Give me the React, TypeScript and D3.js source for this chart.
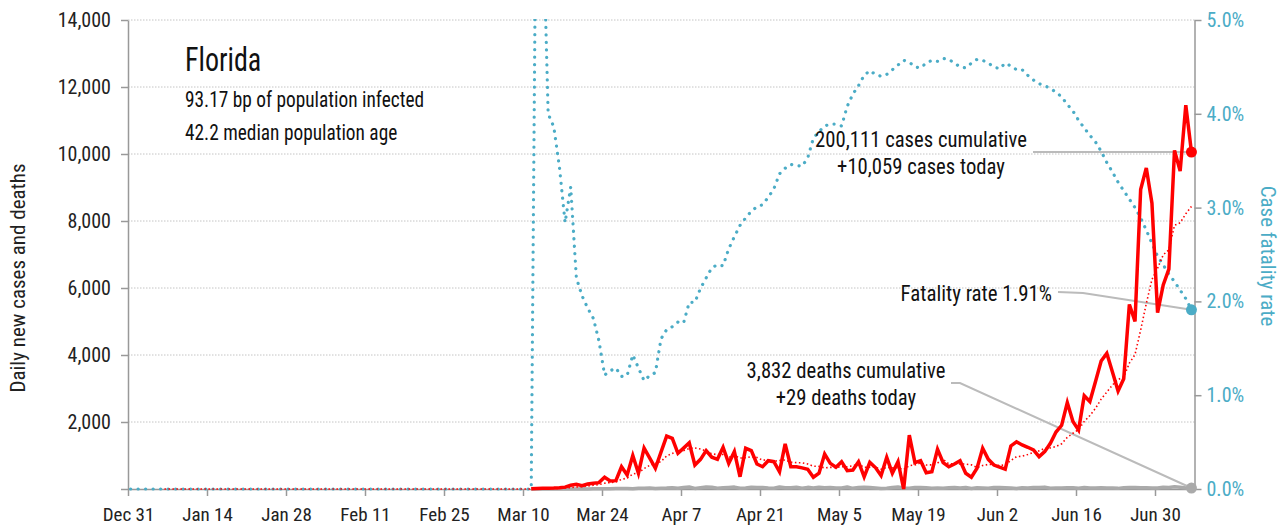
import * as d3 from 'd3';
import { useEffect, useRef } from 'react';

const W = 1280;
const H = 529;
const FONT = "'Liberation Sans Narrow', 'Roboto Condensed', 'DejaVu Sans Condensed', 'Arial Narrow', sans-serif";
const BLUE = '#4bacc6';
const RED = '#ff0000';
const GREY = '#aaaaaa';

// index 0 of every series sits on Dec 31; the chart stamps each day late in the day
const seriesStart = new Date(2019, 11, 31, 11);
const leadDays = 71; // days with nothing reported before the series below begin

const dailyCases = [
  7, 17, 20, 26, 31, 40, 56, 112, 140, 100,
  150, 170, 190, 350, 240, 250, 665, 420, 1000, 470,
  1220, 920, 620, 1100, 1580, 1510, 1065, 1220, 1380, 715,
  885, 1145, 950, 885, 1245, 765, 1115, 365, 1215, 1145,
  745, 665, 845, 815, 515, 1345, 665, 665, 630, 590,
  350, 470, 1045, 765, 650, 815, 545, 565, 815, 365,
  795, 640, 400, 945, 470, 815, 0, 1610, 785, 845,
  485, 515, 1185, 785, 665, 745, 845, 470, 350, 620,
  1215, 885, 715, 650, 590, 1285, 1410, 1315, 1245, 1165,
  965, 1115, 1365, 1700, 1902, 2581, 2016, 1758, 2783, 2610,
  3207, 3822, 4049, 3494, 2926, 3289, 5508, 5004, 8942, 9585,
  8530, 5266, 6093, 6563, 10109, 9488, 11458, 10059,
];

const dailyDeaths = [
  2, 0, 1, 1, 2, 1, 3, 2, 3, 5,
  2, 6, 9, 6, 10, 13, 15, 17, 10, 25,
  26, 31, 17, 23, 28, 40, 22, 46, 59, 18,
  38, 58, 53, 26, 36, 48, 57, 20, 28, 53,
  47, 45, 27, 21, 60, 40, 38, 50, 23, 49,
  27, 54, 37, 43, 30, 33, 60, 20, 47, 55,
  42, 28, 15, 21, 46, 58, 29, 22, 45, 44,
  38, 26, 28, 23, 39, 43, 27, 48, 13, 35,
  29, 25, 46, 47, 41, 32, 14, 40, 28, 44,
  48, 56, 22, 31, 33, 40, 37, 25, 43, 27,
  27, 40, 33, 29, 19, 41, 45, 44, 39, 41,
  28, 29, 54, 48, 67, 49, 29, 29,
];

// case fatality rate, percent
const fatalityPct = [
  0, 7.6, 6.3, 4.0, 3.86, 3.43, 2.84, 3.22, 2.25, 2.06,
  1.93, 1.82, 1.58, 1.215, 1.26, 1.29, 1.2, 1.21, 1.43, 1.29,
  1.155, 1.21, 1.24, 1.6, 1.7, 1.73, 1.78, 1.77, 1.99, 1.99,
  2.14, 2.25, 2.36, 2.39, 2.38, 2.56, 2.69, 2.81, 2.89, 2.96,
  3.01, 3.03, 3.11, 3.2, 3.36, 3.42, 3.46, 3.45, 3.44, 3.53,
  3.74, 3.81, 3.87, 3.89, 3.89, 3.87, 4.08, 4.21, 4.3, 4.41,
  4.46, 4.42, 4.4, 4.42, 4.47, 4.52, 4.57, 4.55, 4.5, 4.49,
  4.54, 4.57, 4.56, 4.59, 4.58, 4.54, 4.5, 4.49, 4.54, 4.58,
  4.57, 4.54, 4.5, 4.48, 4.54, 4.51, 4.47, 4.47, 4.41, 4.36,
  4.32, 4.3, 4.27, 4.23, 4.18, 4.1, 4.03, 3.93, 3.85, 3.77,
  3.7, 3.6, 3.48, 3.38, 3.27, 3.18, 3.09, 3.0, 2.89, 2.76,
  2.62, 2.48, 2.39, 2.29, 2.21, 2.12, 2.03, 1.91,
];

const caseTicks = [0, 2000, 4000, 6000, 8000, 10000, 12000, 14000];
const rateTicks = [0, 1, 2, 3, 4, 5];
const dateDomain = [new Date(2019, 11, 31), new Date(2020, 6, 7)];

const stateName = 'Florida';
const infoLines = ['93.17 bp of population infected', '42.2 median population age'];
const casesCumulative = 200111;
const deathsCumulative = 3832;

export default function App() {
  const svgRef = useRef<SVGSVGElement | null>(null);

  useEffect(() => {
    const svg = d3.select(svgRef.current);
    svg.selectAll('*').remove();

    const x = d3.scaleTime().domain(dateDomain).range([128, 1194.5]);
    const y = d3.scaleLinear().domain([0, 14000]).range([489, 20]);
    const yr = d3.scaleLinear().domain([0, 5]).range([489, 20]);
    const dayAt = (i: number) => d3.timeDay.offset(seriesStart, i);
    const fmt = d3.format(',');

    const zeros = new Array(leadDays).fill(0);
    const casesAll = zeros.concat(dailyCases);
    const rateAll = zeros.concat(fatalityPct);
    const avg7 = casesAll.map((_, i) => (i < 6 ? null : d3.mean(casesAll.slice(i - 6, i + 1)) as number));

    svg
      .append('defs')
      .append('clipPath')
      .attr('id', 'plot')
      .append('rect')
      .attr('x', 120)
      .attr('y', 19)
      .attr('width', 1080)
      .attr('height', 480);

    // grid
    svg
      .append('g')
      .selectAll('line')
      .data(caseTicks.slice(1))
      .join('line')
      .attr('x1', 128)
      .attr('x2', 1194.5)
      .attr('y1', (d) => y(d))
      .attr('y2', (d) => y(d))
      .attr('stroke', '#c4c4c4')
      .attr('stroke-width', 1)
      .attr('stroke-dasharray', '1.5,1.5');

    const styleAxis = (g: d3.Selection<SVGGElement, unknown, null, undefined>, color: string) => {
      g.select('.domain').attr('stroke', '#999').attr('stroke-width', 1.5);
      g.selectAll('.tick line').attr('stroke', '#999').attr('stroke-width', 1.5);
      g.selectAll('.tick text')
        .attr('fill', color)
        .style('font-family', FONT)
        .style('font-stretch', 'condensed');
    };

    const gl = svg
      .append('g')
      .attr('transform', 'translate(128,0)')
      .call(
        d3
          .axisLeft(y)
          .tickValues(caseTicks)
          .tickSize(7)
          .tickSizeOuter(0)
          .tickPadding(10)
          .tickFormat((d) => ((d as number) === 0 ? '' : fmt(d as number)))
      );
    styleAxis(gl, '#222');
    gl.selectAll('.tick text').style('font-size', '20px');

    const gr = svg
      .append('g')
      .attr('transform', 'translate(1194.5,0)')
      .call(d3.axisRight(yr).tickValues(rateTicks).tickSize(7).tickSizeOuter(0).tickPadding(5).tickFormat((d) => (d as number).toFixed(1) + '%'));
    styleAxis(gr, BLUE);
    gr.selectAll('.tick text').style('font-size', '20px');

    const gb = svg
      .append('g')
      .attr('transform', 'translate(0,489)')
      .call(
        d3
          .axisBottom(x)
          .tickValues(d3.timeDay.range(dateDomain[0], dateDomain[1], 14))
          .tickSize(7)
          .tickSizeOuter(0)
          .tickFormat((d) => d3.timeFormat('%b %-d')(d as Date))
      );
    styleAxis(gb, '#222');
    gb.selectAll('.tick text').style('font-size', '19px').attr('y', 32).attr('dy', 0);

    // axis titles
    svg
      .append('text')
      .attr('transform', 'translate(25,278) rotate(-90)')
      .attr('text-anchor', 'middle')
      .style('font-family', FONT)
      .style('font-stretch', 'condensed')
      .style('font-size', '21px')
      .attr('fill', '#222')
      .text('Daily new cases and deaths');

    svg
      .append('text')
      .attr('transform', 'translate(1261,256) rotate(90)')
      .attr('text-anchor', 'middle')
      .style('font-family', FONT)
      .style('font-stretch', 'condensed')
      .style('font-size', '21px')
      .attr('fill', BLUE)
      .text('Case fatality rate');

    const last = casesAll.length - 1;
    const endX = x(dayAt(last));
    const lastCases = dailyCases[dailyCases.length - 1];
    const lastDeaths = dailyDeaths[dailyDeaths.length - 1];
    const lastRate = fatalityPct[fatalityPct.length - 1];

    // leader lines
    const leader = d3.line();
    const leaders: [number, number][][] = [
      [[1033, y(lastCases)], [endX, y(lastCases)]],
      [[1058, 292], [1083, 293], [endX, yr(lastRate)]],
      [[951, 383], [960, 383], [endX, y(lastDeaths)]],
    ];
    svg
      .append('g')
      .selectAll('path')
      .data(leaders)
      .join('path')
      .attr('d', (d) => leader(d))
      .attr('fill', 'none')
      .attr('stroke', '#bbb')
      .attr('stroke-width', 2);

    const plot = svg.append('g').attr('clip-path', 'url(#plot)');

    plot
      .append('path')
      .attr('d', d3.line<number>().x((_, i) => x(dayAt(i))).y((d) => yr(d))(rateAll))
      .attr('fill', 'none')
      .attr('stroke', BLUE)
      .attr('stroke-width', 3.2)
      .attr('stroke-linecap', 'round')
      .attr('stroke-dasharray', '0.1,7.4');

    plot
      .append('path')
      .attr('d', d3.line<number>().x((_, i) => x(dayAt(i + leadDays))).y((d) => y(d))(dailyDeaths))
      .attr('fill', 'none')
      .attr('stroke', GREY)
      .attr('stroke-width', 3.5)
      .attr('stroke-linejoin', 'round');

    plot
      .append('path')
      .attr(
        'd',
        d3
          .line<number | null>()
          .defined((d) => d !== null)
          .x((_, i) => x(dayAt(i)))
          .y((d) => y(d as number))(avg7)
      )
      .attr('fill', 'none')
      .attr('stroke', RED)
      .attr('stroke-width', 1.6)
      .attr('stroke-dasharray', '1.5,2.5');

    plot
      .append('path')
      .attr('d', d3.line<number>().x((_, i) => x(dayAt(i + leadDays))).y((d) => y(d))(dailyCases))
      .attr('fill', 'none')
      .attr('stroke', RED)
      .attr('stroke-width', 3.5)
      .attr('stroke-linejoin', 'miter');

    // end markers
    const ends = [
      { cy: y(lastCases), color: RED },
      { cy: yr(lastRate), color: BLUE },
      { cy: y(lastDeaths), color: GREY },
    ];
    svg
      .append('g')
      .selectAll('circle')
      .data(ends)
      .join('circle')
      .attr('cx', endX)
      .attr('cy', (d) => d.cy)
      .attr('r', 5.5)
      .attr('fill', (d) => d.color);

    // texts, squeezed horizontally to mimic the condensed face of the original
    const text = (tx: number, ty: number, str: string, size: number, squeeze: number, anchor = 'start') =>
      svg
        .append('g')
        .attr('transform', `translate(${tx},${ty}) scale(${squeeze},1)`)
        .append('text')
        .attr('text-anchor', anchor)
        .style('font-family', FONT)
        .style('font-stretch', 'condensed')
        .style('font-size', `${size}px`)
        .attr('fill', '#111')
        .text(str);

    text(185, 71, stateName, 33, 0.85);
    text(185, 107, infoLines[0], 21.5, 0.9);
    text(185, 140, infoLines[1], 21.5, 0.9);

    text(921, 147, `${fmt(casesCumulative)} cases cumulative`, 22, 0.94, 'middle');
    text(921, 174, `+${fmt(lastCases)} cases today`, 22, 0.94, 'middle');
    text(1052, 301, `Fatality rate ${lastRate.toFixed(2)}%`, 22, 0.95, 'end');
    text(846, 378, `${fmt(deathsCumulative)} deaths cumulative`, 22, 0.94, 'middle');
    text(846, 405, `+${lastDeaths} deaths today`, 22, 0.94, 'middle');
  }, []);

  return (
    <svg
      ref={svgRef}
      width={W}
      height={H}
      style={{ position: 'absolute', left: 0, top: 0, background: '#fff', display: 'block' }}
    />
  );
}
